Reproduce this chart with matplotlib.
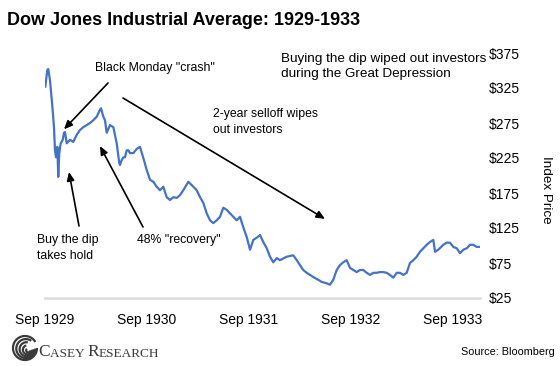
import matplotlib
matplotlib.use("Agg")
import matplotlib.pyplot as plt
from matplotlib.patches import Arc
from matplotlib.transforms import IdentityTransform

plt.rcParams['font.family'] = ['Liberation Sans', 'DejaVu Sans']

# ---- data (decimal year, index level) ----
years = [1929.669, 1929.689, 1929.698, 1929.715, 1929.741, 1929.754, 1929.764, 1929.774,
         1929.787, 1929.796, 1929.806, 1929.820, 1929.840, 1929.852, 1929.862, 1929.879,
         1929.911, 1929.943, 1929.977, 1930.009, 1930.041, 1930.075, 1930.107, 1930.140,
         1930.173, 1930.205, 1930.215, 1930.238, 1930.254, 1930.271, 1930.303, 1930.336,
         1930.369, 1930.394, 1930.401, 1930.418, 1930.434, 1930.450, 1930.467, 1930.483,
         1930.499, 1930.516, 1930.532, 1930.565, 1930.597, 1930.630, 1930.663, 1930.695,
         1930.728, 1930.761, 1930.793, 1930.826, 1930.859, 1930.891, 1930.924, 1930.957,
         1930.990, 1931.022, 1931.071, 1931.120, 1931.153, 1931.186, 1931.218, 1931.251,
         1931.284, 1931.316, 1931.349, 1931.382, 1931.414, 1931.447, 1931.480, 1931.512,
         1931.545, 1931.578, 1931.610, 1931.644, 1931.676, 1931.708, 1931.741, 1931.774,
         1931.806, 1931.840, 1931.872, 1931.904, 1931.938, 1931.970, 1932.036, 1932.100,
         1932.134, 1932.166, 1932.198, 1932.232, 1932.296, 1932.345, 1932.378, 1932.428,
         1932.460, 1932.492, 1932.526, 1932.558, 1932.590, 1932.624, 1932.656, 1932.688,
         1932.722, 1932.754, 1932.786, 1932.820, 1932.852, 1932.885, 1932.918, 1932.950,
         1932.983, 1933.016, 1933.048, 1933.081, 1933.114, 1933.146, 1933.179, 1933.212,
         1933.244, 1933.277, 1933.310, 1933.342, 1933.375, 1933.408, 1933.440, 1933.473,
         1933.490, 1933.522, 1933.571, 1933.604, 1933.637, 1933.669, 1933.703, 1933.735,
         1933.767, 1933.800, 1933.833, 1933.865, 1933.898, 1933.931]
dow = [327, 351, 352, 336, 294, 269, 236, 226,
       241, 198, 232, 246, 251, 261, 262, 246,
       251, 248, 258, 265, 269, 272, 275, 279,
       284, 294, 296, 284, 279, 261, 272, 269,
       246, 218, 215, 222, 226, 226, 236, 236,
       232, 232, 232, 238, 241, 225, 208, 194,
       191, 184, 179, 184, 169, 165, 169, 168,
       172, 179, 191, 184, 179, 169, 161, 146,
       136, 132, 136, 141, 154, 151, 146, 141,
       136, 141, 126, 112, 94, 108, 111, 115,
       105, 96, 84, 76, 82, 79, 84, 86,
       79, 72, 65, 61, 55, 51, 48, 46,
       44, 51, 65, 72, 76, 79, 68, 65,
       62, 65, 65, 61, 58, 61, 61, 62,
       62, 61, 58, 54, 61, 61, 58, 61,
       75, 79, 84, 91, 96, 101, 105, 108,
       91, 94, 101, 104, 104, 98, 96, 89,
       94, 96, 101, 101, 98, 98]

tick_years = [1929.666, 1930.666, 1931.666, 1932.666, 1933.666]
tick_labels = ["Sep 1929", "Sep 1930", "Sep 1931", "Sep 1932", "Sep 1933"]
y_ticks = [25, 75, 125, 175, 225, 275, 325, 375]

# annotation targets (decimal year, level)
crash_pt = (1929.852, 266)
selloff_pt = (1932.411, 138)
dip_pt = (1929.901, 205)
recovery_pt = (1930.205, 242)

W, H = 560, 366
fig = plt.figure(figsize=(W / 100, H / 100), dpi=100)
ax = fig.add_axes([45 / W, (H - 298) / H, 435 / W, (298 - 53) / H])

ax.plot(years, dow, color="#4472C4", lw=1.6, solid_joinstyle="round")
ax.set_xlim(1929.666, 1929.666 + 435 / 102)
ax.set_ylim(25, 375)

for s in ["top", "left", "right"]:
    ax.spines[s].set_visible(False)
ax.spines["bottom"].set_color("#DADADA")
ax.spines["bottom"].set_linewidth(1.8)

ax.yaxis.tick_right()
ax.set_yticks(y_ticks)
ax.set_yticklabels([f"${v}" for v in y_ticks])
ax.set_xticks(tick_years)
ax.set_xticklabels(tick_labels)
ax.tick_params(axis="both", length=0, labelsize=10, colors="black")
ax.tick_params(axis="y", pad=6)
ax.tick_params(axis="x", pad=11)


def fp(x, y):
    return (x / W, 1 - y / H)


fig.text(*fp(7, 12), "Dow Jones Industrial Average: 1929-1933", fontsize=13,
         fontweight="bold", va="top", ha="left")
fig.text(*fp(281, 53), "Buying the dip wiped out investors\nduring the Great Depression",
         fontsize=9.7, va="top", ha="left", linespacing=1.35)
fig.text(*fp(546, 190), "Index Price", fontsize=9.7, rotation=270, va="center", ha="center")
fig.text(*fp(555, 352), "Source: Bloomberg", fontsize=7.8, va="center", ha="right")

fs = 8.8
fig.text(*fp(95, 62), 'Black Monday "crash"', fontsize=fs, va="top", ha="left")
fig.text(*fp(213, 108), "2-year selloff wipes\nout investors", fontsize=fs, va="top",
         ha="left", linespacing=1.4)
fig.text(*fp(37, 234), "Buy the dip\ntakes hold", fontsize=fs, va="top", ha="left",
         linespacing=1.4)
fig.text(*fp(137, 234), '48% "recovery"', fontsize=fs, va="top", ha="left")

arrowprops = dict(arrowstyle="-|>,head_length=0.5,head_width=0.22", color="black", lw=1.2,
                  shrinkA=0, shrinkB=0)
ax.annotate("", xy=crash_pt, xycoords="data", xytext=fp(108, 83),
            textcoords="figure fraction", arrowprops=arrowprops, annotation_clip=False)
ax.annotate("", xy=selloff_pt, xycoords="data", xytext=fp(123, 98),
            textcoords="figure fraction", arrowprops=arrowprops, annotation_clip=False)
ax.annotate("", xy=dip_pt, xycoords="data", xytext=fp(79, 226),
            textcoords="figure fraction", arrowprops=arrowprops, annotation_clip=False)
ax.annotate("", xy=recovery_pt, xycoords="data", xytext=fp(143, 227),
            textcoords="figure fraction", arrowprops=arrowprops, annotation_clip=False)

# Casey Research logo (text in small caps + swirl)
logo_col = "#3a3a3a"
serif = ["Liberation Serif", "DejaVu Serif"]
prev = fig.text(*fp(38, 356), "C", fontsize=12.5, family=serif, color=logo_col,
                va="baseline", ha="left")
parts = [("ASEY ", 9.5), ("R", 12.5), ("ESEARCH", 9.5)]
for txt, sz in parts:
    prev = ax.annotate(txt, xy=(1, 0), xycoords=prev, fontsize=sz, family=serif,
                       color=logo_col, va="bottom", ha="left", annotation_clip=False)
cx, cy = 25, H - 348
for i, r in enumerate([24, 19, 14, 9, 4]):
    arc = Arc((cx + i * 0.8, cy - i * 0.6), r, r, theta1=30 + i * 25, theta2=360,
              transform=IdentityTransform(), color=logo_col, lw=1.6)
    fig.add_artist(arc)

fig.savefig("out.png", dpi=100)
